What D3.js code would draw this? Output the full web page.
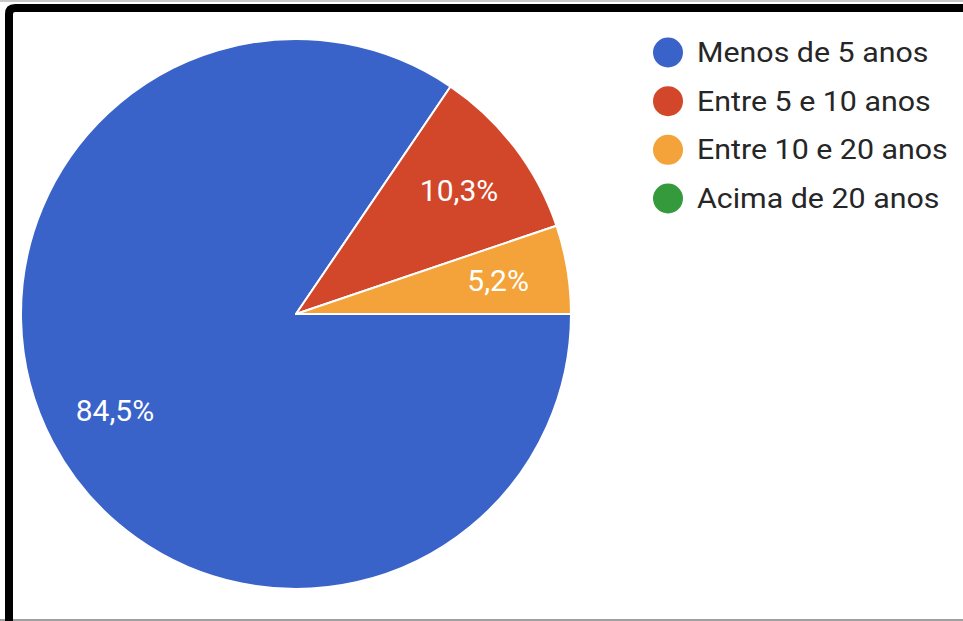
<!DOCTYPE html>
<html>
<head>
<meta charset="utf-8">
<script src="https://cdn.jsdelivr.net/npm/d3@7"></script>
<style>
  html, body { margin: 0; padding: 0; background: #fff; }
  svg { display: block; }
</style>
</head>
<body>
<svg id="chart" width="963" height="621"></svg>
<script>
// Response categories and their shares (%)
const categories = ["Menos de 5 anos", "Entre 5 e 10 anos", "Entre 10 e 20 anos", "Acima de 20 anos"];
const values = [84.5, 10.3, 5.2, 0];
const valueLabels = ["84,5%", "10,3%", "5,2%", ""];
const colors = ["#3a63c9", "#d2472a", "#f3a33a", "#349a3c"];

const W = 963, H = 621;
const svg = d3.select("#chart");

// Frame around the card
svg.append("rect").attr("x", 0).attr("y", 0).attr("width", W).attr("height", 2).attr("fill", "#c8c8c8");
svg.append("rect").attr("x", 0).attr("y", 619).attr("width", W).attr("height", 2).attr("fill", "#a0a0a0");
svg.append("path")
  .attr("d", "M9,621 L9,14 Q9,8 15,8 L963,8")
  .attr("fill", "none").attr("stroke", "#000").attr("stroke-width", 8);

const cx = 296, cy = 314, r = 275;
const data = categories.map((c, i) => ({ name: c, value: values[i], label: valueLabels[i], color: colors[i] }));

// Pie starts at 3 o'clock and runs clockwise
const pie = d3.pie().value(d => d.value).sort(null)
  .startAngle(Math.PI / 2).endAngle(Math.PI / 2 + 2 * Math.PI);
const arcs = pie(data).filter(a => a.data.value > 0);

const arc = d3.arc().innerRadius(0).outerRadius(r);
const labelArc = d3.arc().innerRadius(r * 0.745).outerRadius(r * 0.745);

const g = svg.append("g").attr("transform", `translate(${cx},${cy})`);
g.selectAll("path.slice").data(arcs).enter().append("path")
  .attr("class", "slice")
  .attr("d", arc)
  .attr("fill", d => d.data.color)
  .attr("stroke", "#fff")
  .attr("stroke-width", 2)
  .attr("stroke-linejoin", "round");

g.selectAll("text.lbl").data(arcs).enter().append("text")
  .attr("class", "lbl")
  .attr("transform", d => `translate(${labelArc.centroid(d)})`)
  .attr("text-anchor", "middle")
  .attr("dy", "0.36em")
  .attr("font-family", "Roboto, sans-serif")
  .attr("font-size", 30)
  .attr("fill", "#fff")
  .text(d => d.data.label);

// Legend
const legendY = d3.scalePoint().domain(categories).range([52.5, 198.5]);
const lg = svg.append("g");
const items = lg.selectAll("g").data(data).enter().append("g")
  .attr("transform", d => `translate(668,${legendY(d.name)})`);
items.append("circle").attr("r", 15).attr("fill", d => d.color);
items.append("text")
  .attr("transform", "translate(29,9.5) scale(1.125,1)")
  .attr("font-family", "Roboto, sans-serif")
  .attr("font-size", 27)
  .attr("fill", "#262626")
  .text(d => d.name);
</script>
</body>
</html>
